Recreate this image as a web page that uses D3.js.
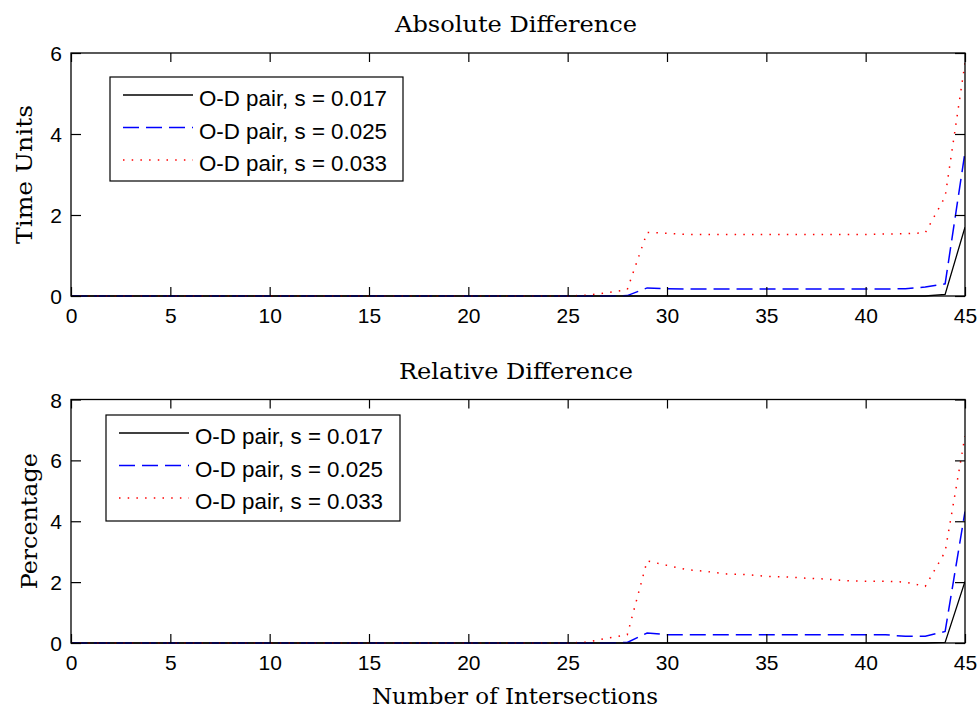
<!DOCTYPE html>
<html><head><meta charset="utf-8">
<script src="https://cdn.jsdelivr.net/npm/d3@7"></script>
<style>body{margin:0;background:#fff}</style>
</head><body>
<svg id="c" width="980" height="711"></svg>
<script>
const xs = d3.range(0, 46);
function pad(tail){ const a = new Array(46 - tail.length).fill(0); return a.concat(tail); }
// Absolute Difference (time units), x = 26..45
const absS017 = pad([0,0,0,0,0,0,0,0,0,0,0,0,0,0,0,0,0,0,0.04,1.7]);
const absS025 = pad([0,0,0.01,0.2,0.18,0.17,0.17,0.17,0.17,0.17,0.17,0.17,0.17,0.17,0.17,0.17,0.18,0.22,0.3,3.55]);
const absS033 = pad([0.02,0.08,0.16,1.57,1.55,1.52,1.52,1.52,1.52,1.52,1.52,1.52,1.52,1.52,1.52,1.53,1.54,1.56,2.45,5.75]);
// Relative Difference (percentage), x = 26..45
const relS017 = pad([0,0,0,0,0,0,0,0,0,0,0,0,0,0,0,0,0,0,0.02,2.02]);
const relS025 = pad([0,0,0.02,0.33,0.27,0.27,0.27,0.27,0.27,0.27,0.27,0.27,0.27,0.27,0.27,0.27,0.22,0.22,0.38,4.32]);
const relS033 = pad([0.03,0.16,0.27,2.7,2.55,2.41,2.35,2.27,2.25,2.19,2.17,2.13,2.1,2.05,2.03,2.03,2.0,1.86,3.0,6.8]);
const xTicks = [0,5,10,15,20,25,30,35,40,45];
const absTicks = [0,2,4,6];
const relTicks = [0,2,4,6,8];
const legendLabels = ["O-D pair, s = 0.017","O-D pair, s = 0.025","O-D pair, s = 0.033"];
const styles = [
  {color:"#000", dash:null, w:1.3},
  {color:"#0000ff", dash:"16,7", w:1.5},
  {color:"#ff0000", dash:"1.5,7.2", w:1.5}
];

const svg = d3.select("#c");
const sans = "Arial, 'Liberation Sans', sans-serif";
const serif = "'DejaVu Serif', serif";

function label(sel, len){
  sel.attr("textLength", len).attr("lengthAdjust","spacingAndGlyphs");
  return sel;
}

function panel(cfg){
  const {top, bottom, yMax, yTicks, series, title, titleY, titleLen, ylabel, ylabelX, ylabelLen, leg} = cfg;
  const x = d3.scaleLinear().domain([0,45]).range([71,965]);
  const y = d3.scaleLinear().domain([0,yMax]).range([bottom, top]);
  const g = svg.append("g");
  const clipId = "clip" + Math.round(top);
  svg.append("clipPath").attr("id", clipId).append("rect")
    .attr("x",71).attr("y",top-2).attr("width",894).attr("height",bottom-top+4);
  const line = d3.line().x((d,i)=>x(xs[i])).y(d=>y(d));
  series.forEach((s,k)=>{
    g.append("path").datum(s).attr("d", line).attr("fill","none")
      .attr("stroke", styles[k].color).attr("stroke-width", styles[k].w)
      .attr("stroke-dasharray", styles[k].dash).attr("clip-path", `url(#${clipId})`);
  });
  const ax = g.append("g").attr("transform",`translate(0,${bottom})`)
    .call(d3.axisBottom(x).tickValues(xTicks).tickSize(-9).tickPadding(12).tickFormat(d3.format("d")));
  const axT = g.append("g").attr("transform",`translate(0,${top})`)
    .call(d3.axisTop(x).tickValues(xTicks).tickSize(-9).tickFormat(""));
  const ay = g.append("g").attr("transform",`translate(71,0)`)
    .call(d3.axisLeft(y).tickValues(yTicks).tickSize(-10).tickPadding(9).tickFormat(d3.format("d")));
  const ayR = g.append("g").attr("transform",`translate(965,0)`)
    .call(d3.axisRight(y).tickValues(yTicks).tickSize(-10).tickFormat(""));
  [ax,axT,ay,ayR].forEach(a=>{
    a.select(".domain").remove();
    a.selectAll(".tick line").attr("stroke","#000").attr("stroke-width",1.2);
    a.selectAll("text").attr("font-family",sans).attr("font-size",21).attr("fill","#000");
  });
  ax.selectAll("text").attr("dy","0.72em");
  ay.selectAll("text").attr("dy","0.36em");
  g.append("rect").attr("x",71).attr("y",top).attr("width",894).attr("height",bottom-top)
    .attr("fill","none").attr("stroke","#000").attr("stroke-width",1.3);
  label(g.append("text").attr("x",516).attr("y",titleY).attr("text-anchor","middle")
    .attr("font-family",serif).attr("font-size",23).text(title), titleLen);
  label(g.append("text").attr("transform",`translate(${ylabelX},${(top+bottom)/2}) rotate(-90)`)
    .attr("text-anchor","middle").attr("font-family",serif).attr("font-size",23).text(ylabel), ylabelLen);
  const lg = g.append("g");
  lg.append("rect").attr("x",leg.x).attr("y",leg.y).attr("width",leg.w).attr("height",leg.h)
    .attr("fill","#fff").attr("stroke","#000").attr("stroke-width",1.2);
  legendLabels.forEach((t,k)=>{
    const ry = leg.y + 18 + k*32.5;
    lg.append("line").attr("x1",leg.x+13).attr("x2",leg.x+83).attr("y1",ry).attr("y2",ry)
      .attr("stroke",styles[k].color).attr("stroke-width",styles[k].w).attr("stroke-dasharray",styles[k].dash);
    label(lg.append("text").attr("x",leg.x+89).attr("y",ry+3).attr("dy","0.36em")
      .attr("font-family",sans).attr("font-size",22.5).text(t), 188);
  });
}

panel({top:53, bottom:296, yMax:6, yTicks:absTicks, series:[absS017,absS025,absS033],
  title:"Absolute Difference", titleY:32, titleLen:242, ylabel:"Time Units", ylabelX:32, ylabelLen:139,
  leg:{x:110,y:77,w:293,h:104}});
panel({top:399.5, bottom:643, yMax:8, yTicks:relTicks, series:[relS017,relS025,relS033],
  title:"Relative Difference", titleY:379, titleLen:234, ylabel:"Percentage", ylabelX:37, ylabelLen:136,
  leg:{x:106,y:415,w:294,h:106}});
label(svg.append("text").attr("x",515).attr("y",704).attr("text-anchor","middle")
  .attr("font-family",serif).attr("font-size",23).text("Number of Intersections"), 286);
</script>
</body></html>
